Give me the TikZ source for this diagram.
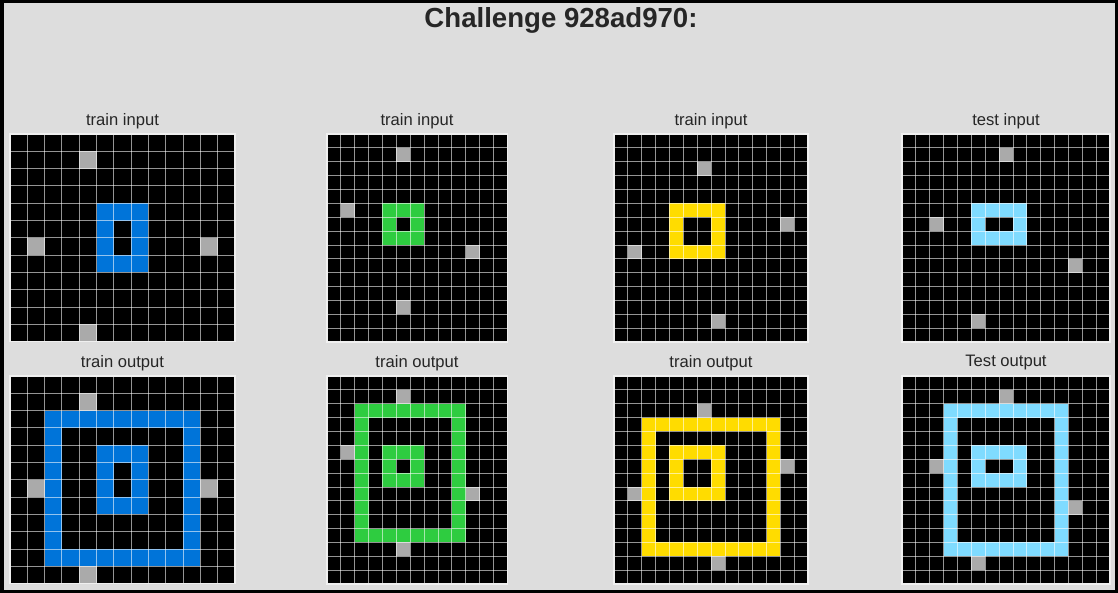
\documentclass[tikz,border=0pt]{standalone}
\usepackage{fontspec}
\setmainfont{Liberation Sans}
\definecolor{bgc}{HTML}{DDDDDD}
\definecolor{txt}{HTML}{262626}
\definecolor{arcgray}{HTML}{AAAAAA}
\definecolor{arcblue}{HTML}{0074D9}
\definecolor{arcgreen}{HTML}{2ECC40}
\definecolor{arcyellow}{HTML}{FFDC00}
\definecolor{arccyan}{HTML}{7FDBFF}
\tikzset{
  gridline/.style={draw=white, draw opacity=0.58, line width=0.9pt},
  gridframe/.style={draw=white!94!black, line width=1.4pt},
  lbl/.style={text=txt, font=\fontsize{16.6}{19}\selectfont, inner sep=0pt},
  ttl/.style={text=txt, font=\fontsize{27.6}{32}\selectfont\bfseries, inner sep=0pt}
}
% x0 y0 s cols rows
\newcommand\arcbg[5]{\fill[black] (#1,#2) rectangle ({#1+#4*#3},{#2+#5*#3});}
% x0 y0 s r c color
\newcommand\arccell[6]{\fill[#6] ({#1+(#5)*#3},{#2+(#4)*#3}) rectangle ({#1+(#5+1)*#3},{#2+(#4+1)*#3});}
% x0 y0 s r1 c1 r2 c2 color
\newcommand\arcring[8]{%
  \fill[#8] ({#1+(#5)*#3},{#2+(#4)*#3}) rectangle ({#1+(#7+1)*#3},{#2+(#6+1)*#3});
  \fill[black] ({#1+(#5+1)*#3},{#2+(#4+1)*#3}) rectangle ({#1+(#7)*#3},{#2+(#6)*#3});}
\newcommand\arclines[5]{%
  \foreach \i in {0,...,#4} \draw[gridline] ({#1+\i*#3},#2) -- ({#1+\i*#3},{#2+#5*#3});
  \foreach \j in {0,...,#5} \draw[gridline] (#1,{#2+\j*#3}) -- ({#1+#4*#3},{#2+\j*#3});
  \draw[gridframe] (#1,#2) rectangle ({#1+#4*#3},{#2+#5*#3});}
\begin{document}
\begin{tikzpicture}[x=1pt,y=-1pt]
\useasboundingbox (0,0) rectangle (1118,593);
\fill[bgc] (0,0) rectangle (1118,593);
\draw[black, line width=3.5pt] (1.75,1.75) rectangle (1116.25,591.25);
\node[ttl] (title) at (561,20.5) {Challenge 928ad970:};

% ---------- grid 1 ----------
\def\sA{17.31}
\node[lbl] (l1i) at (122.5,121) {train input};
\arcbg{10}{134}{\sA}{13}{12}
\arcring{10}{134}{\sA}{4}{5}{7}{7}{arcblue}
\foreach \r/\c in {1/4,6/1,6/11,11/4} {\arccell{10}{134}{\sA}{\r}{\c}{arcgray}}
\arclines{10}{134}{\sA}{13}{12}

\node[lbl] (l1o) at (122.5,363) {train output};
\arcbg{10}{376}{\sA}{13}{12}
\arcring{10}{376}{\sA}{2}{2}{10}{10}{arcblue}
\arcring{10}{376}{\sA}{4}{5}{7}{7}{arcblue}
\foreach \r/\c in {1/4,6/1,6/11,11/4} {\arccell{10}{376}{\sA}{\r}{\c}{arcgray}}
\arclines{10}{376}{\sA}{13}{12}

% ---------- grid 2 ----------
\def\sB{13.87}
\node[lbl] (l2i) at (417,121) {train input};
\arcbg{327}{134}{\sB}{13}{15}
\arcring{327}{134}{\sB}{5}{4}{7}{6}{arcgreen}
\foreach \r/\c in {1/5,5/1,8/10,12/5} {\arccell{327}{134}{\sB}{\r}{\c}{arcgray}}
\arclines{327}{134}{\sB}{13}{15}

\node[lbl] (l2o) at (417,363) {train output};
\arcbg{327}{376}{\sB}{13}{15}
\arcring{327}{376}{\sB}{2}{2}{11}{9}{arcgreen}
\arcring{327}{376}{\sB}{5}{4}{7}{6}{arcgreen}
\foreach \r/\c in {1/5,5/1,8/10,12/5} {\arccell{327}{376}{\sB}{\r}{\c}{arcgray}}
\arclines{327}{376}{\sB}{13}{15}

% ---------- grid 3 ----------
\node[lbl] (l3i) at (711,121) {train input};
\arcbg{614}{134}{\sB}{14}{15}
\arcring{614}{134}{\sB}{5}{4}{8}{7}{arcyellow}
\foreach \r/\c in {2/6,6/12,8/1,13/7} {\arccell{614}{134}{\sB}{\r}{\c}{arcgray}}
\arclines{614}{134}{\sB}{14}{15}

\node[lbl] (l3o) at (711,363) {train output};
\arcbg{614}{376}{\sB}{14}{15}
\arcring{614}{376}{\sB}{3}{2}{12}{11}{arcyellow}
\arcring{614}{376}{\sB}{5}{4}{8}{7}{arcyellow}
\foreach \r/\c in {2/6,6/12,8/1,13/7} {\arccell{614}{376}{\sB}{\r}{\c}{arcgray}}
\arclines{614}{376}{\sB}{14}{15}

% ---------- grid 4 ----------
\node[lbl] (l4i) at (1006,121) {test input};
\arcbg{902}{134}{\sB}{15}{15}
\arcring{902}{134}{\sB}{5}{5}{7}{8}{arccyan}
\foreach \r/\c in {1/7,6/2,9/12,13/5} {\arccell{902}{134}{\sB}{\r}{\c}{arcgray}}
\arclines{902}{134}{\sB}{15}{15}

\node[lbl] (l4o) at (1006,363) {Test output};
\arcbg{902}{376}{\sB}{15}{15}
\arcring{902}{376}{\sB}{2}{3}{12}{11}{arccyan}
\arcring{902}{376}{\sB}{5}{5}{7}{8}{arccyan}
\foreach \r/\c in {1/7,6/2,9/12,13/5} {\arccell{902}{376}{\sB}{\r}{\c}{arcgray}}
\arclines{902}{376}{\sB}{15}{15}
\end{tikzpicture}
\end{document}
